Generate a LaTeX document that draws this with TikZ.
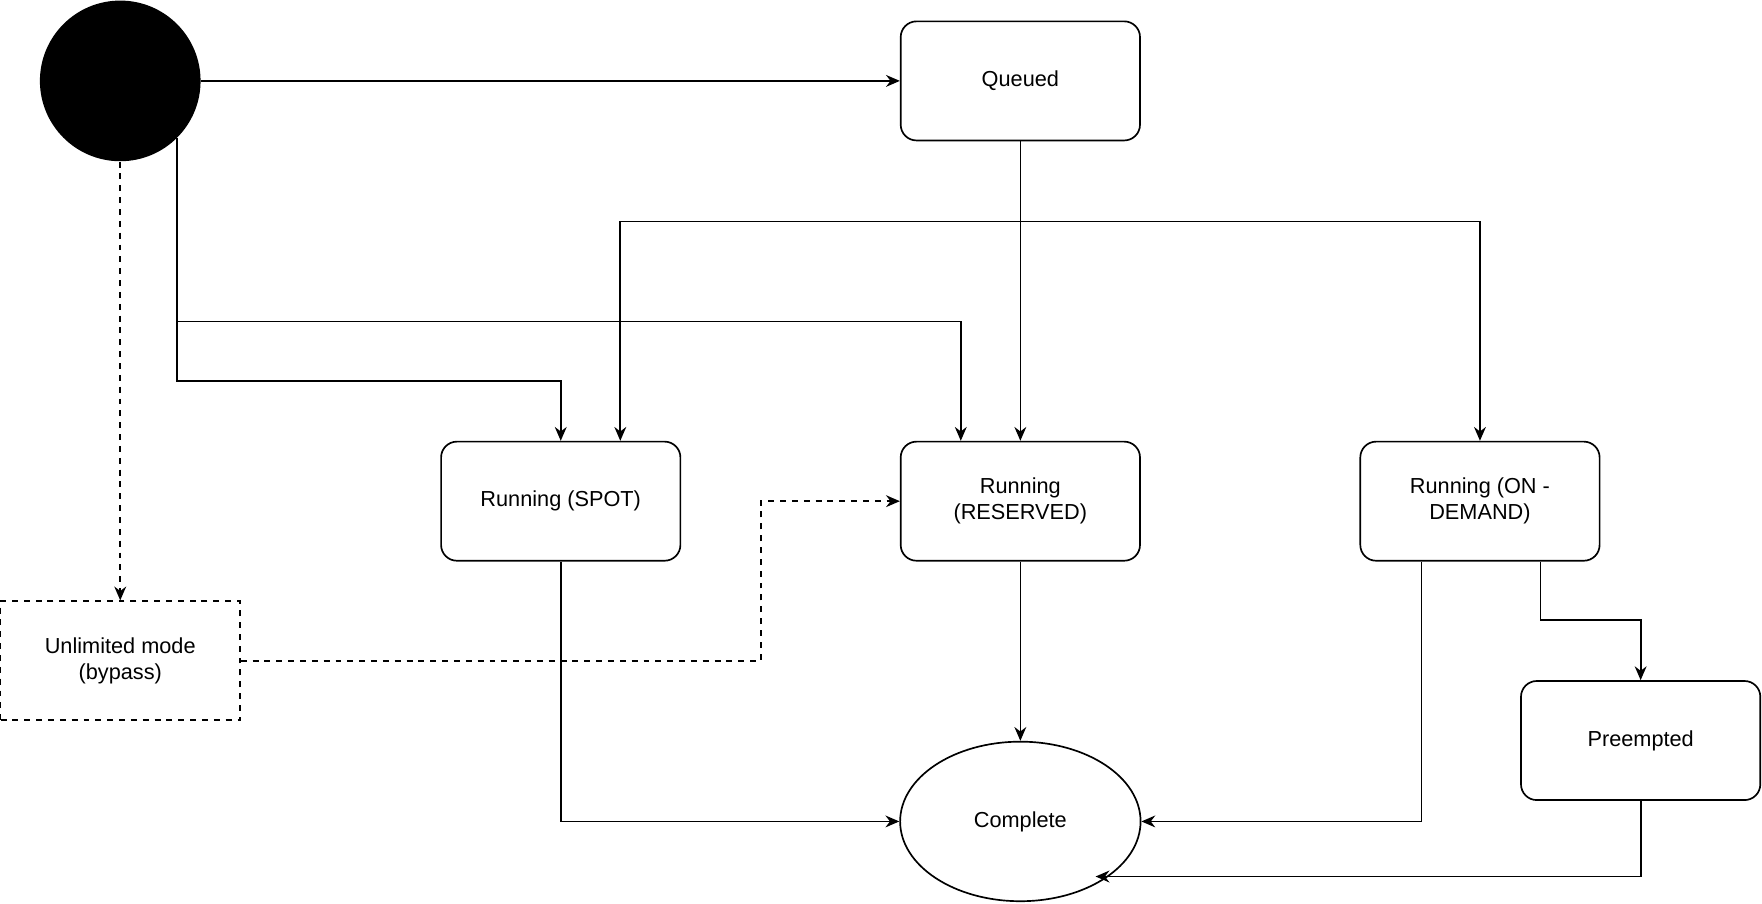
\documentclass[tikz,border=0pt]{standalone}
\usepackage{fontspec}
\setmainfont{Liberation Sans}
\usetikzlibrary{arrows.meta,shapes.geometric}
\tikzset{
  state/.style={draw,rounded corners=8pt,minimum width=4.26cm,minimum height=2.12cm,align=center,line width=0.85pt},
  flow/.style={-{Stealth[length=7pt,width=6pt]},line width=0.85pt},
  bypass/.style={flow,dashed}
}
\begin{document}
\begin{tikzpicture}[x=0.02cm,y=-0.02cm,font=\fontsize{11pt}{13pt}\selectfont]
  \useasboundingbox (0,0) rectangle (1568,804);
  % Nodes
  \node[circle,fill=black,minimum size=2.86cm,inner sep=0pt] (start) at (107,72) {};
  \node[state] (queued) at (908,72) {Queued};
  \node[state] (spot) at (499,446) {Running (SPOT)};
  \node[state] (reserved) at (908,446) {Running\\(RESERVED)};
  \node[state] (ondemand) at (1317,446) {Running (ON -\\DEMAND)};
  \node[state,rounded corners=0pt,dashed] (unlimited) at (107,588) {Unlimited mode\\(bypass)};
  \node[state] (preempted) at (1460,659) {Preempted};
  \node[ellipse,draw,line width=0.85pt,minimum width=4.28cm,minimum height=2.84cm] (complete) at (908,731) {Complete};
  % Start
  \draw[flow] (start) -- (queued);
  \draw[flow] (start.-45) |- (499,339) -- (spot.north);
  \draw[flow] (start.-45) |- (855,286) -- (reserved.north -| 855,0);
  \draw[bypass] (start) -- (unlimited);
  % Queued
  \draw[flow] (queued) -- (reserved);
  \draw[flow] (queued.south) -- (908,197) -| (spot.north -| 552,0);
  \draw[flow] (908,197) -| (ondemand.north);
  % Bypass
  \draw[bypass] (unlimited.east) -- (677,588) |- (reserved.west);
  % Complete
  \draw[flow] (spot.south) |- (complete.west);
  \draw[flow] (reserved) -- (complete);
  \draw[flow] (ondemand.south -| 1265,0) |- (complete.east);
  \draw[flow] (ondemand.south -| 1371,0) |- (1460,552) -- (preempted.north);
  \draw[flow] (preempted.south) |- (complete.-40 |- 0,780);
\end{tikzpicture}
\end{document}
